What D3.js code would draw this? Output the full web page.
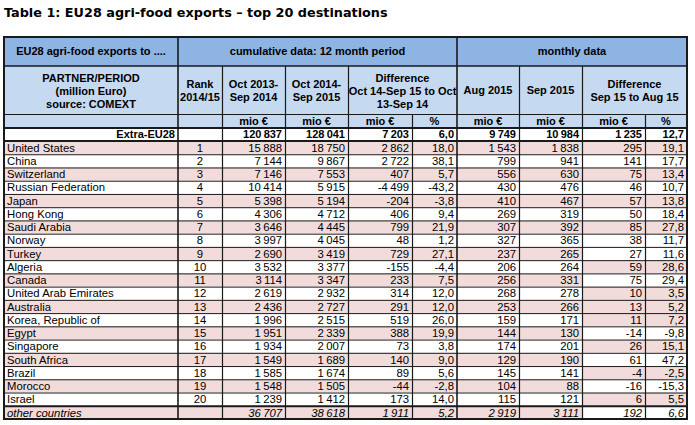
<!DOCTYPE html>
<html><head><meta charset="utf-8">
<script src="https://cdn.jsdelivr.net/npm/d3@7"></script>
<style>
html,body{margin:0;padding:0;background:#fff;}
svg{display:block;}
</style></head>
<body>
<svg id="c" width="695" height="425"></svg>
<script>
// ---------- DATA ----------
const title = "Table 1: EU28 agri-food exports \u2013 top 20 destinations";
const partners = ["United States","China","Switzerland","Russian Federation","Japan","Hong Kong","Saudi Arabia","Norway","Turkey","Algeria","Canada","United Arab Emirates","Australia","Korea, Republic of","Egypt","Singapore","South Africa","Brazil","Morocco","Israel"];
const ranks = [1,2,3,4,5,6,7,8,9,10,11,12,13,14,15,16,17,18,19,20];
const cum2014 = [15888,7144,7146,10414,5398,4306,3646,3997,2690,3532,3114,2619,2436,1996,1951,1934,1549,1585,1548,1239];
const cum2015 = [18750,9867,7553,5915,5194,4712,4445,4045,3419,3377,3347,2932,2727,2515,2339,2007,1689,1674,1505,1412];
const cumDiff = [2862,2722,407,-4499,-204,406,799,48,729,-155,233,314,291,519,388,73,140,89,-44,173];
const cumPct = [18.0,38.1,5.7,-43.2,-3.8,9.4,21.9,1.2,27.1,-4.4,7.5,12.0,12.0,26.0,19.9,3.8,9.0,5.6,-2.8,14.0];
const aug2015 = [1543,799,556,430,410,269,307,327,237,206,256,268,253,159,144,174,129,145,104,115];
const sep2015 = [1838,941,630,476,467,319,392,365,265,264,331,278,266,171,130,201,190,141,88,121];
const monDiff = [295,141,75,46,57,50,85,38,27,59,75,10,13,11,-14,26,61,-4,-16,6];
const monPct = [19.1,17.7,13.4,10.7,13.8,18.4,27.8,11.7,11.6,28.6,29.4,3.5,5.2,7.2,-9.8,15.1,47.2,-2.5,-15.3,5.5];
const totalLabel = "Extra-EU28";
const totalRow = [120837,128041,7203,6.0,9749,10984,1235,12.7];
const otherLabel = "other countries";
const otherRow = [36707,38618,1911,5.2,2919,3111,192,6.6];
// shading flags (1 = pink) for the main columns and for the monthly-difference columns
const mainShade = [1,0,1,0,1,0,1,0,1,0,1,0,1,0,1,0,1,0,1,0,1];
const monShade  = [1,0,1,0,1,0,1,0,0,1,0,1,1,1,0,1,0,1,0,1,0];
const headTop = ["EU28 agri-food exports to ....","cumulative data: 12 month period","monthly data"];
const unitLabels = ["","","mio \u20ac","mio \u20ac","mio \u20ac","%","mio \u20ac","mio \u20ac","mio \u20ac","%"];

// ---------- LAYOUT ----------
const svg = d3.select("#c");
const edges = [4,178,222,285,348,412,457,519,582,645,687];
const yTop = 37, yH1 = 66, yH2 = 114, yH3 = 128, yTot = 141, yEnd = 419;
const PINK = "#f2dcdb", BLUE1 = "#8db4e2", BLUE2 = "#c5d9f1", LINE = "#1a1a1a";
const FONT = "'Liberation Sans', Arial, sans-serif";

const loc = d3.formatLocale({decimal:",", thousands:"\u2009", grouping:[3], currency:["",""], minus:"-"});
const fInt = loc.format(",d"), fPct = loc.format(".1f");

const rowsAll = partners.map((p,i)=>({label:p, rank:ranks[i], vals:[cum2014[i],cum2015[i],cumDiff[i],cumPct[i],aug2015[i],sep2015[i],monDiff[i],monPct[i]], kind:"data"}));
rowsAll.push({label:otherLabel, rank:"", vals:otherRow, kind:"other"});

const y = d3.scaleBand().domain(d3.range(rowsAll.length)).range([yTot, yEnd]).paddingInner(0).paddingOuter(0);

svg.append("text").attr("x",4).attr("y",17).attr("font-family","'DejaVu Sans', Verdana, sans-serif")
  .attr("font-weight","bold").attr("font-size",12.8).attr("fill","#000").text(title);

// header backgrounds
svg.append("rect").attr("x",edges[0]).attr("y",yTop).attr("width",edges[10]-edges[0]).attr("height",yH1-yTop).attr("fill",BLUE1);
svg.append("rect").attr("x",edges[0]).attr("y",yH1).attr("width",edges[10]-edges[0]).attr("height",yH3-yH1).attr("fill",BLUE2);
svg.append("rect").attr("x",edges[0]).attr("y",yH3).attr("width",edges[10]-edges[0]).attr("height",yTot-yH3).attr("fill","#fff");

// data row shading
const g = svg.append("g");
rowsAll.forEach((r,i)=>{
  const top = y(i), h = y.bandwidth();
  g.append("rect").attr("x",edges[0]).attr("y",top).attr("width",edges[8]-edges[0]).attr("height",h).attr("fill",mainShade[i]?PINK:"#fff");
  g.append("rect").attr("x",edges[8]).attr("y",top).attr("width",edges[10]-edges[8]).attr("height",h).attr("fill",monShade[i]?PINK:"#fff");
});

// lines
function hline(x1,x2,yy,w){svg.append("line").attr("x1",x1).attr("x2",x2).attr("y1",yy).attr("y2",yy).attr("stroke",LINE).attr("stroke-width",w||1);}
function vline(xx,y1,y2,w){svg.append("line").attr("x1",xx).attr("x2",xx).attr("y1",y1).attr("y2",y2).attr("stroke",LINE).attr("stroke-width",w||1);}
rowsAll.forEach((r,i)=>{ if(i>0) hline(edges[0],edges[10],y(i)+0.5, i===rowsAll.length-1?2:1); });
hline(edges[0],edges[10],yH1,1.6);
hline(edges[0],edges[10],yH2+0.5,1);
hline(edges[0],edges[10],yH3,2);
hline(edges[0],edges[10],yTot,2);
// verticals
vline(edges[1],yTop,yEnd,1.6);
vline(edges[6],yTop,yEnd,1.6);
[2,3,4,7,8].forEach(k=>vline(edges[k]+0.5,yH1,yEnd,1.2));
[5,9].forEach(k=>vline(edges[k]+0.5,yH2,yEnd,1.2));
// outer border
svg.append("rect").attr("x",edges[0]).attr("y",yTop).attr("width",edges[10]-edges[0]).attr("height",yEnd-yTop)
  .attr("fill","none").attr("stroke",LINE).attr("stroke-width",2);

// header text
function txt(x,yy,s,opt){
  opt=opt||{};
  return svg.append("text").attr("x",x).attr("y",yy).attr("font-family",FONT).attr("font-size",opt.size||11)
   .attr("font-weight",opt.bold?"bold":"normal").attr("font-style",opt.italic?"italic":"normal")
   .attr("text-anchor",opt.anchor||"start").attr("fill","#000").text(s);
}
const mid=(a,b)=>(edges[a]+edges[b])/2;
txt(mid(0,1),55,headTop[0],{bold:true,anchor:"middle"});
txt(mid(1,6),55,headTop[1],{bold:true,anchor:"middle"});
txt(mid(6,10),55,headTop[2],{bold:true,anchor:"middle"});
[["PARTNER/PERIOD",82],["(million Euro)",95],["source: COMEXT",108]].forEach(d=>txt(mid(0,1),d[1],d[0],{bold:true,anchor:"middle"}));
[["Rank",88],["2014/15",101]].forEach(d=>txt(mid(1,2),d[1],d[0],{bold:true,anchor:"middle"}));
[["Oct 2013-",88],["Sep 2014",101]].forEach(d=>txt(mid(2,3),d[1],d[0],{bold:true,anchor:"middle"}));
[["Oct 2014-",88],["Sep 2015",101]].forEach(d=>txt(mid(3,4),d[1],d[0],{bold:true,anchor:"middle"}));
[["Difference",82],["Oct 14-Sep 15 to Oct",95],["13-Sep 14",108]].forEach(d=>txt(mid(4,6),d[1],d[0],{bold:true,anchor:"middle"}));
txt(mid(6,7),94,"Aug 2015",{bold:true,anchor:"middle"});
txt(mid(7,8),94,"Sep 2015",{bold:true,anchor:"middle"});
[["Difference",88],["Sep 15 to Aug 15",101]].forEach(d=>txt(mid(8,10),d[1],d[0],{bold:true,anchor:"middle"}));
unitLabels.forEach((u,k)=>{ if(u) txt(mid(k,k+1),125,u,{bold:true,anchor:"middle"}); });

// total row
txt(edges[1]-3,138,totalLabel,{bold:true,anchor:"end"});
totalRow.forEach((v,k)=>txt(edges[k+3]-3,138,(k===3||k===7)?fPct(v):fInt(v),{bold:true,anchor:"end"}));

// data rows
rowsAll.forEach((r,i)=>{
  const by = y(i)+y.bandwidth()-2.5;
  const it = r.kind==="other";
  txt(edges[0]+3,by,r.label,{italic:it,size:11.3});
  if(r.rank!=="") txt(mid(1,2),by,r.rank,{anchor:"middle",size:11.3});
  r.vals.forEach((v,k)=>txt(edges[k+3]-3,by,(k===3||k===7)?fPct(v):fInt(v),{italic:it,anchor:"end",size:11.3}));
});
</script>
</body></html>
